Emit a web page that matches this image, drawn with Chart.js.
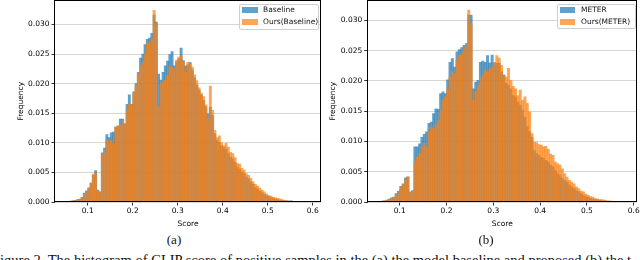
<!DOCTYPE html>
<html><head><meta charset="utf-8">
<script src="https://cdn.jsdelivr.net/npm/chart.js@4.4.0/dist/chart.umd.min.js"></script>
<style>
html,body{margin:0;padding:0;background:#fff;}
body{width:640px;height:260px;position:relative;overflow:hidden;font-family:'DejaVu Sans',sans-serif;}
canvas{position:absolute;top:0;}
#chartA{left:0;}
#chartB{left:322px;}
.lgbox{position:absolute;background:rgba(255,255,255,0.8);border:1px solid #cfcfcf;border-radius:2px;box-sizing:border-box;}
.lgsw{position:absolute;width:15.5px;height:5.5px;}
.lgtx{position:absolute;height:12px;line-height:12px;font-size:7.5px;color:#111;white-space:nowrap;}
.sub{position:absolute;font-family:'Liberation Serif',serif;font-size:13px;line-height:13px;color:#111;white-space:nowrap;transform:translateX(-50%);}
.caption{position:absolute;left:-8px;top:253px;font-family:'Liberation Serif',serif;font-size:14.5px;line-height:14.5px;color:#111;white-space:nowrap;}
</style>
</head><body>
<canvas id="chartA" width="323" height="232"></canvas>
<canvas id="chartB" width="318" height="232"></canvas>
<div class="sub" style="left:174px;top:233px">(a)</div>
<div class="sub" style="left:486px;top:233px">(b)</div>
<div class="caption">Figure 2. The histogram of CLIP score of positive samples in the (a) the model baseline and proposed (b) the t</div>
<script>
// ---- data ----
const binCenters = [
0.0525,0.0575,0.0625,0.0675,0.0725,0.0775,0.0825,0.0875,0.0925,0.0975,
0.1025,0.1075,0.1125,0.1175,0.1225,0.1275,0.1325,0.1375,0.1425,0.1475,
0.1525,0.1575,0.1625,0.1675,0.1725,0.1775,0.1825,0.1875,0.1925,0.1975,
0.2025,0.2075,0.2125,0.2175,0.2225,0.2275,0.2325,0.2375,0.2425,0.2475,
0.2525,0.2575,0.2625,0.2675,0.2725,0.2775,0.2825,0.2875,0.2925,0.2975,
0.3025,0.3075,0.3125,0.3175,0.3225,0.3275,0.3325,0.3375,0.3425,0.3475,
0.3525,0.3575,0.3625,0.3675,0.3725,0.3775,0.3825,0.3875,0.3925,0.3975,
0.4025,0.4075,0.4125,0.4175,0.4225,0.4275,0.4325,0.4375,0.4425,0.4475,
0.4525,0.4575,0.4625,0.4675,0.4725,0.4775,0.4825,0.4875,0.4925,0.4975,
0.5025,0.5075,0.5125,0.5175,0.5225,0.5275,0.5325,0.5375,0.5425,0.5475,
0.5525,0.5575,0.5625,0.5675,0.5725,0.5775,0.5825,0.5875,0.5925,0.5975];

const baselineFreq = [
0.00005,0.0001,0.00015,0.0002,0.0003,0.0004,0.0005,0.0008,0.0015,0.0019,
0.0024,0.0032,0.0045,0.0053,0.0020,0.0017,0.0083,0.0091,0.0114,0.0109,
0.0117,0.0118,0.0127,0.0128,0.0140,0.0140,0.0132,0.0165,0.0181,0.0165,
0.0186,0.0200,0.0219,0.0243,0.0250,0.0266,0.0275,0.0277,0.0285,0.0316,
0.0304,0.0216,0.0206,0.0219,0.0230,0.0238,0.0249,0.0254,0.0230,0.0237,
0.0242,0.0260,0.0239,0.0230,0.0232,0.0236,0.0223,0.0210,0.0198,0.0189,
0.0181,0.0172,0.0161,0.0149,0.0160,0.0146,0.0115,0.0104,0.0101,0.0095,
0.0093,0.0089,0.0082,0.0076,0.0073,0.0067,0.0059,0.0056,0.0051,0.0048,
0.0042,0.0039,0.0034,0.0030,0.0025,0.0022,0.0018,0.0016,0.0013,0.0011,
0.0009,0.0007,0.0006,0.0005,0.0004,0.0003,0.0003,0.0002,0.0002,0.00015,
0.0002,0.0001,0.00008,0.00005,0.00004,0.00003,0.00002,0.00001,0.00001,0.00001];

const oursBaselineFreq = [
0.00003,0.00005,0.0001,0.0002,0.00025,0.0003,0.0004,0.0006,0.0013,0.0018,
0.0023,0.0032,0.0047,0.0049,0.0018,0.0016,0.0081,0.0084,0.0104,0.0104,
0.0104,0.0098,0.0126,0.0129,0.0129,0.0137,0.0132,0.0155,0.0165,0.0164,
0.0184,0.0197,0.0217,0.0230,0.0236,0.0250,0.0269,0.0269,0.0275,0.0324,
0.0300,0.0161,0.0200,0.0203,0.0206,0.0214,0.0230,0.0228,0.0225,0.0240,
0.0245,0.0246,0.0237,0.0219,0.0236,0.0233,0.0228,0.0215,0.0205,0.0193,
0.0184,0.0178,0.0164,0.0141,0.0196,0.0155,0.0121,0.0109,0.0112,0.0100,
0.0095,0.0099,0.0093,0.0084,0.0082,0.0075,0.0065,0.0064,0.0057,0.0054,
0.0048,0.0045,0.0040,0.0034,0.0030,0.0027,0.0023,0.0020,0.0017,0.0014,
0.0011,0.0010,0.0008,0.0007,0.0006,0.0005,0.0004,0.0003,0.0002,0.00015,
0.0001,0.0001,0.00006,0.00005,0.00003,0.00002,0.00002,0.00001,0,0];

const meterFreq = [
0.00005,0.0001,0.00015,0.0002,0.0003,0.0005,0.0007,0.0008,0.0014,0.0018,
0.0026,0.0030,0.0040,0.0041,0.0017,0.0019,0.0091,0.0091,0.0096,0.0107,
0.0112,0.0116,0.0130,0.0132,0.0146,0.0154,0.0153,0.0179,0.0182,0.0179,
0.0202,0.0231,0.0237,0.0223,0.0248,0.0252,0.0255,0.0259,0.0262,0.0309,
0.0309,0.0187,0.0198,0.0201,0.0231,0.0233,0.0231,0.0242,0.0230,0.0243,
0.0230,0.0229,0.0229,0.0215,0.0210,0.0196,0.0193,0.0187,0.0176,0.0174,
0.0165,0.0160,0.0152,0.0140,0.0125,0.0116,0.0107,0.0085,0.0080,0.0077,
0.0074,0.0072,0.0069,0.0066,0.0061,0.0058,0.0052,0.0047,0.0044,0.0039,
0.0036,0.0033,0.0028,0.0025,0.0022,0.0019,0.0017,0.0014,0.0011,0.0009,
0.0008,0.0006,0.0005,0.0004,0.0004,0.0003,0.0002,0.0002,0.00015,0.0001,
0.0001,0.00008,0.00005,0.00004,0.00003,0.00002,0.00002,0.00001,0.00001,0];

const oursMeterFreq = [
0.00003,0.00005,0.0001,0.00015,0.0002,0.0004,0.0005,0.0007,0.0011,0.0017,
0.0025,0.0028,0.0036,0.0042,0.0015,0.0018,0.0066,0.0074,0.0079,0.0091,
0.0097,0.0091,0.0116,0.0124,0.0121,0.0127,0.0135,0.0152,0.0168,0.0174,
0.0186,0.0207,0.0215,0.0212,0.0234,0.0242,0.0245,0.0253,0.0259,0.0317,
0.0295,0.0168,0.0182,0.0193,0.0204,0.0209,0.0218,0.0215,0.0220,0.0223,
0.0231,0.0242,0.0238,0.0226,0.0207,0.0207,0.0221,0.0201,0.0191,0.0187,
0.0176,0.0185,0.0168,0.0174,0.0163,0.0149,0.0113,0.0099,0.0098,0.0095,
0.0094,0.0091,0.0092,0.0087,0.0079,0.0077,0.0066,0.0063,0.0061,0.0055,
0.0047,0.0041,0.0036,0.0033,0.0030,0.0025,0.0022,0.0018,0.0017,0.0013,
0.0011,0.0009,0.0008,0.0006,0.0005,0.0004,0.0004,0.0003,0.0002,0.0002,
0.00015,0.0001,0.0001,0.00005,0.00004,0.00003,0.00002,0.00001,0.00001,0.00001];

const seriesNamesA = ['Baseline', 'Ours(Baseline)'];
const seriesNamesB = ['METER', 'Ours(METER)'];
const xTickValues = [0.1, 0.2, 0.3, 0.4, 0.5, 0.6];
const yTickValues = [0, 0.005, 0.010, 0.015, 0.020, 0.025, 0.030];
const xTitle = 'Score';
const yTitle = 'Frequency';

// ---- styling ----
const BLUE = 'rgba(31,119,180,0.7)';
const ORANGE = 'rgba(255,127,14,0.7)';
const GRID = 'rgba(200,200,200,0.75)';
const FONT = "'DejaVu Sans', sans-serif";

const framePlugin = {
  id: 'frame',
  afterDraw(chart) {
    const {ctx, chartArea: a} = chart;
    ctx.save();
    ctx.strokeStyle = '#000';
    ctx.lineWidth = 1;
    const l = Math.round(a.left) - 0.5, r = Math.round(a.right) - 0.5;
    const t = 0.5, b = Math.round(a.bottom) - 0.5;
    ctx.strokeRect(l, t, r - l, b - t);
    ctx.restore();
  }
};

function buildChart(id, cfg) {
  const ds = (label, values, color, order) => ({
    label, data: binCenters.map((x, i) => ({x: x, y: values[i]})),
    backgroundColor: color, borderWidth: 0, grouped: false, order: order,
    barPercentage: 1, categoryPercentage: 1
  });
  return new Chart(document.getElementById(id), {
    type: 'bar',
    data: {datasets: [ds(cfg.names[0], cfg.a, BLUE, 2), ds(cfg.names[1], cfg.b, ORANGE, 1)]},
    options: {
      responsive: false, animation: false, events: [],
      layout: {padding: {left: 0, right: cfg.rightPad, top: 0.5, bottom: 0}},
      plugins: {legend: {display: false}, tooltip: {enabled: false}},
      scales: {
        x: {
          type: 'linear', min: cfg.xmin, max: cfg.xmax, offset: false,
          grid: {display: true, offset: false, drawOnChartArea: false, drawTicks: true, tickLength: 3.5, tickColor: '#000', tickWidth: 0.8},
          border: {display: false},
          ticks: {autoSkip: false, maxRotation: 0, padding: 1, color: '#000', font: {family: FONT, size: 7.5}, callback: v => v.toFixed(1)},
          title: {display: true, text: xTitle, color: '#000', font: {family: FONT, size: 7.5}, padding: {top: 0, bottom: 3.5}},
          afterBuildTicks: s => { s.ticks = xTickValues.map(v => ({value: v})); },
          afterFit: s => { s.height = 30; s.paddingLeft = 0; s.paddingRight = 0; }
        },
        y: {
          type: 'linear', min: 0, max: cfg.ymax, z: 1,
          grid: {color: GRID, lineWidth: 1, drawTicks: true, tickLength: 3.5, tickColor: '#000', tickWidth: 0.8},
          border: {display: false},
          ticks: {padding: 2, color: '#000', font: {family: FONT, size: 7.5}, callback: v => v.toFixed(3)},
          title: {display: true, text: yTitle, color: '#000', font: {family: FONT, size: 7.5}, padding: {top: cfg.yTitlePad, bottom: 0}},
          afterBuildTicks: s => { s.ticks = yTickValues.map(v => ({value: v})); },
          afterFit: s => { s.width = cfg.yAxisWidth; s.paddingTop = 0; s.paddingBottom = 0; }
        }
      }
    },
    plugins: [framePlugin]
  });
}

function buildLegend(names, box, swX, txX) {
  const b = document.createElement('div');
  b.className = 'lgbox';
  Object.assign(b.style, {left: box[0] + 'px', top: box[1] + 'px', width: box[2] + 'px', height: box[3] + 'px'});
  document.body.appendChild(b);
  const colors = [BLUE, ORANGE];
  const rows = [10, 22];
  names.forEach((n, i) => {
    const sw = document.createElement('div');
    sw.className = 'lgsw';
    Object.assign(sw.style, {left: swX + 'px', top: (rows[i] - 2.75) + 'px', background: colors[i]});
    document.body.appendChild(sw);
    const tx = document.createElement('div');
    tx.className = 'lgtx';
    tx.textContent = n;
    Object.assign(tx.style, {left: txX + 'px', top: (rows[i] - 6) + 'px'});
    document.body.appendChild(tx);
  });
}

buildChart('chartA', {names: seriesNamesA, a: baselineFreq, b: oursBaselineFreq,
  xmin: 0.0273, xmax: 0.6184, ymax: 0.03405, yAxisWidth: 55, rightPad: 2, yTitlePad: 17});
buildChart('chartB', {names: seriesNamesB, a: meterFreq, b: oursMeterFreq,
  xmin: 0.0316, xmax: 0.6070, ymax: 0.0333, yAxisWidth: 45.7, rightPad: 3, yTitlePad: 6.5});
buildLegend(seriesNamesA, [239, 4, 80, 25.5], 242, 263);
buildLegend(seriesNamesB, [556.7, 4.3, 79.3, 24.5], 559.5, 581);
</script>
</body></html>
